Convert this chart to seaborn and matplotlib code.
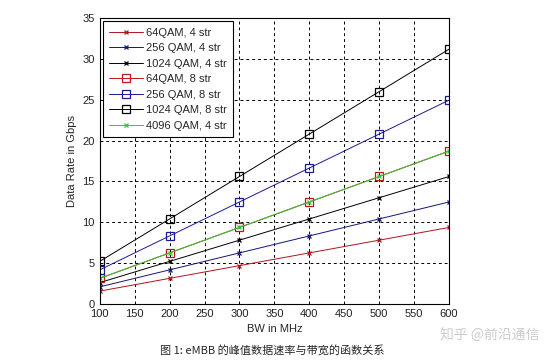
import numpy as np
import pandas as pd
import matplotlib
matplotlib.use("Agg")
import matplotlib.pyplot as plt
import seaborn as sns

# datos
bw = [100, 200, 300, 400, 500, 600]
qam64_4 = [1.56, 3.12, 4.68, 6.24, 7.80, 9.36]
qam256_4 = [2.08, 4.16, 6.24, 8.32, 10.40, 12.48]
qam1024_4 = [2.60, 5.20, 7.80, 10.40, 13.00, 15.60]
qam64_8 = [3.12, 6.24, 9.36, 12.48, 15.60, 18.72]
qam256_8 = [4.16, 8.32, 12.48, 16.64, 20.80, 24.96]
qam1024_8 = [5.20, 10.40, 15.60, 20.80, 26.00, 31.20]
qam4096_4 = [3.12, 6.24, 9.36, 12.48, 15.60, 18.72]

series = [
    ("64QAM, 4 str", qam64_4, "#b0141e", "x"),
    ("256 QAM, 4 str", qam256_4, "#14147a", "x"),
    ("1024 QAM, 4 str", qam1024_4, "#000000", "x"),
    ("64QAM, 8 str", qam64_8, "#c0141e", "s"),
    ("256 QAM, 8 str", qam256_8, "#1a1a9a", "s"),
    ("1024 QAM, 8 str", qam1024_8, "#000000", "s"),
    ("4096 QAM, 4 str", qam4096_4, "#33cc33", "x"),
]

sns.set_style("white")
plt.rcParams['font.family'] = ['Liberation Sans', 'Noto Sans CJK SC', 'DejaVu Sans']

fig = plt.figure(figsize=(5.45, 3.63), dpi=100)
ax = fig.add_axes([0.183, 0.163, 0.641, 0.787])

for nombre, vals, color, mk in series:
    df = pd.DataFrame({"bw": bw, "rate": vals})
    sns.lineplot(data=df, x="bw", y="rate", ax=ax, color=color, linewidth=0.7,
                 marker=mk, markersize=5.5 if mk == "s" else 3.5,
                 markerfacecolor="none" if mk == "s" else color,
                 markeredgecolor=color, markeredgewidth=0.9, label=nombre)

ax.set_xlim(100, 600)
ax.set_ylim(0, 35)
ax.set_xticks(np.arange(100, 601, 50))
ax.set_yticks(np.arange(0, 36, 5))
ax.tick_params(direction="in", labelsize=8, length=3, colors="#222222")
ax.grid(True, linestyle=(0, (3, 3)), color="black", linewidth=0.7)
for s in ax.spines.values():
    s.set_color("black")
    s.set_linewidth(0.8)
ax.set_xlabel("BW in MHz", fontsize=8)
ax.set_ylabel("Data Rate in Gbps", fontsize=8)

leg = ax.legend(loc="upper left", fontsize=8, frameon=True, fancybox=False,
                edgecolor="black", framealpha=1, borderaxespad=0.3,
                handlelength=3.0, handletextpad=0.3, labelspacing=0.5,
                borderpad=0.55)
leg.get_frame().set_linewidth(0.8)

fig.text(0.5, 0.025, "图 1: eMBB 的峰值数据速率与带宽的函数关系", ha="center",
         fontsize=8, family=['Noto Sans CJK SC', 'DejaVu Sans'])
fig.text(0.99, 0.065, "知乎 @前沿通信", ha="right", fontsize=10, color="#cccccc",
         family=['Noto Sans CJK SC', 'DejaVu Sans'])

fig.savefig("out.png", dpi=100)
